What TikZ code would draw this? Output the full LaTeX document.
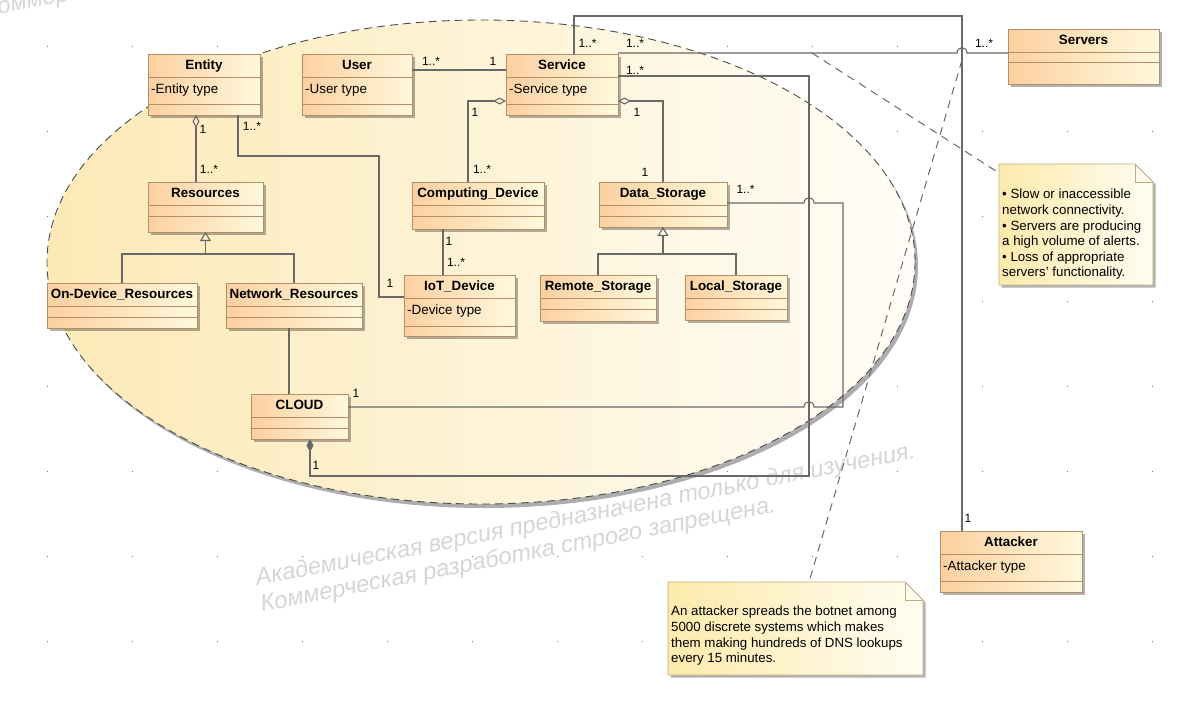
\documentclass[tikz,border=0pt]{standalone}
\usepackage{fontspec}
\setmainfont{Liberation Sans}
\usetikzlibrary{arrows.meta,shadows}

\definecolor{classleft}{RGB}{252,208,160}
\definecolor{classright}{RGB}{255,249,220}
\definecolor{classedge}{RGB}{180,142,104}
\definecolor{noteleft}{RGB}{253,234,172}
\definecolor{noteright}{RGB}{255,253,242}
\definecolor{noteedge}{RGB}{190,172,124}
\definecolor{zoneleft}{RGB}{252,233,182}
\definecolor{zoneright}{RGB}{255,253,246}
\definecolor{linkgray}{RGB}{105,105,105}

% class box: name, title, attribute, top-left, width, attr height, ops height
\newcommand{\umlclass}[7]{%
  \node[classbox, minimum width=#5pt, minimum height={23pt+#6pt+#7pt}, anchor=north west] (#1) at #4 {};
  \draw[classsep] ([yshift=-23pt]#1.north west) -- ([yshift=-23pt]#1.north east);
  \draw[classsep] ([yshift={-23pt-#6pt}]#1.north west) -- ([yshift={-23pt-#6pt}]#1.north east);
  \node[classtitle] (#1-title) at ([yshift=-15.5pt]#1.north) {#2};
  \node[classattr] (#1-attr) at ([xshift=3pt,yshift=-39pt]#1.north west) {#3};
}
% note: name, top-left, width, height
\newcommand{\umlnote}[4]{%
  \node[notebox, minimum width=#3pt, minimum height=#4pt, anchor=north west] (#1) at #2 {};
  \path[notefill] (#1.north west) -- ([xshift=-18pt]#1.north east) -- ([yshift=-18pt]#1.north east)
    -- (#1.south east) -- (#1.south west) -- cycle;
  \draw[noteline] ([xshift=-18pt]#1.north east) |- ([yshift=-18pt]#1.north east);
}

\begin{document}
\begin{tikzpicture}[x=1pt,y=-1pt,>=Stealth]
  \tikzstyle{classbox}=[rectangle, draw=classedge, line width=0.9pt, left color=classleft, right color=classright, inner sep=0pt, outer sep=0pt,
    drop shadow={shadow xshift=2.5pt, shadow yshift=-2.5pt, opacity=0.3, fill=black}]
  \tikzstyle{classsep}=[draw=classedge, line width=0.9pt]
  \tikzstyle{classtitle}=[anchor=base, inner sep=0pt, font=\bfseries\fontsize{13.4}{16}\selectfont]
  \tikzstyle{classattr}=[anchor=base west, inner sep=0pt, font=\fontsize{13.4}{16}\selectfont]
  \tikzstyle{notebox}=[rectangle, inner sep=0pt, outer sep=0pt]
  \tikzstyle{notefill}=[draw=noteedge, line width=0.9pt, left color=noteleft, right color=noteright,
    drop shadow={shadow xshift=2.5pt, shadow yshift=-2.5pt, opacity=0.3, fill=black}]
  \tikzstyle{noteline}=[draw=noteedge, line width=0.9pt]
  \tikzstyle{notetext}=[anchor=north west, inner sep=0pt, align=left, font=\fontsize{13.3}{15.6}\selectfont]
  \tikzstyle{assoc}=[draw=linkgray, line width=1.1pt]
  \tikzstyle{gen}=[assoc, -{Triangle[open,length=9pt,width=11pt]}]
  \tikzstyle{notelink}=[draw=linkgray, line width=1pt, dash pattern=on 8pt off 6pt]
  \tikzstyle{mult}=[inner sep=0pt, font=\fontsize{12}{14}\selectfont]
  \tikzstyle{watermark}=[anchor=base west, inner sep=0pt, rotate=11, text=black!16, font=\itshape\fontsize{23.7}{26}\selectfont]

  \useasboundingbox (0,0) rectangle (1201,702);
  \fill[white] (0,0) rectangle (1201,702);

  % grid dots
  \foreach \i in {0,...,13}
    \foreach \j in {0,...,7}
      \fill[black!55] (47+85*\i,45.5+85*\j) rectangle +(1.2,1.2);

  % botnet zone
  \fill[black!32] (484,266) ellipse [x radius=434, y radius=242];
  \shade[left color=zoneleft, right color=zoneright] (481,262) ellipse [x radius=434, y radius=242];
  \draw[draw=black!70, line width=0.9pt, dash pattern=on 8pt off 5pt] (481,262) ellipse [x radius=434, y radius=242];

  % watermark
  \begin{scope}
    \clip (0,0) rectangle (1201,702);
    \node[watermark] (wm1) at (257,586) {Академическая версия предназначена только для изучения.};
    \node[watermark] (wm2) at (262,612) {Коммерческая разработка строго запрещена.};
    \node[watermark] (wm3) at (-15,17) {Коммерческая разработка строго запрещена.};
  \end{scope}

  % classes
  \umlclass{Entity}{Entity}{-Entity type}{(148,54)}{112}{27}{11}
  \umlclass{User}{User}{-User type}{(302,54)}{110}{27}{11}
  \umlclass{Service}{Service}{-Service type}{(506,54)}{112}{27}{11}
  \umlclass{Resources}{Resources}{}{(148,182)}{115}{11}{16}
  \umlclass{Computing}{Computing\_Device}{}{(412,182)}{132}{11}{13}
  \umlclass{DataStorage}{Data\_Storage}{}{(599,182)}{128}{11}{11}
  \umlclass{OnDevice}{On-Device\_Resources}{}{(47,283)}{150}{11}{11}
  \umlclass{Network}{Network\_Resources}{}{(226,283)}{136}{11}{11}
  \umlclass{CLOUD}{CLOUD}{}{(251,394)}{97}{11}{11}
  \umlclass{IoT}{IoT\_Device}{-Device type}{(404,275)}{111}{28}{10}
  \umlclass{Remote}{Remote\_Storage}{}{(540,275)}{116}{11}{12}
  \umlclass{Local}{Local\_Storage}{}{(685,275)}{102}{11}{11}
  \umlclass{Servers}{Servers}{}{(1008,29)}{151}{10}{22}
  \umlclass{Attacker}{Attacker}{-Attacker type}{(940,531)}{142}{27}{11}

  % notes
  \umlnote{NoteA}{(999,164)}{154}{121}
  \node[notetext] (NoteA-text) at (1002,189) {• Slow or inaccessible\\network connectivity.\\• Servers are producing\\a high volume of alerts.\\• Loss of appropriate\\servers' functionality.};
  \umlnote{NoteB}{(668,582)}{255}{93}
  \node[notetext] (NoteB-text) at (671,606) {An attacker spreads the botnet among\\5000 discrete systems which makes\\them making hundreds of DNS lookups\\every 15 minutes.};

  % associations
  \draw[assoc] (User.east |- 0,70) -- (Service.west |- 0,70);
  \draw[assoc, {Diamond[open,length=13pt,width=7pt]}-] (196,0 |- Entity.south) -- (196,0 |- Resources.north);
  \draw[assoc] (238,0 |- Entity.south) |- (379,156) |- (IoT.west |- 0,297);
  \draw[assoc] (289,0 |- Network.south) -- (289,0 |- CLOUD.north);
  \draw[assoc, {Diamond[open,length=13pt,width=7pt]}-] (Service.west |- 0,101) -| (468,0 |- Computing.north);
  \draw[assoc, {Diamond[open,length=13pt,width=7pt]}-] (Service.east |- 0,101) -| (DataStorage.north);
  \draw[assoc] (443,0 |- Computing.south) -- (443,0 |- IoT.north);
  \draw[assoc] (574,0 |- Service.north) -- (574,16) -- (962,16) -- (962,0 |- Attacker.north);
  \draw[assoc] (Service.east |- 0,53) -- (957,53) .. controls (957,46) and (967,46) .. (967,53) -- (Servers.west |- 0,53);
  \draw[assoc, -{Diamond[length=13pt,width=7pt]}] (Service.east |- 0,76) -| (809,476) -| (310,0 |- CLOUD.south);
  \draw[assoc] (DataStorage.east |- 0,203) -- (804,203) .. controls (804,196) and (814,196) .. (814,203) -| (843,407)
    -- (814,407) .. controls (814,400) and (804,400) .. (804,407) -- (CLOUD.east |- 0,407);

  % generalizations
  \draw[assoc] (OnDevice.north) |- (Network.north |- 0,254) -- (Network.north);
  \draw[gen] (Resources.south |- 0,254) -- (Resources.south);
  \draw[assoc] (Remote.north) |- (Local.north |- 0,254) -- (Local.north);
  \draw[gen] (DataStorage.south |- 0,254) -- (DataStorage.south);

  % note links
  \coordinate (srvlink) at (812,53);
  \coordinate (atklink) at (962,60);
  \draw[notelink] (srvlink) -- ([yshift=-9pt]NoteA.north west);
  \draw[notelink] (atklink) -- (809,0 |- NoteB.north);

  % multiplicities
  \node[mult] (mUserA) at (431,61.5) {1..*};
  \node[mult] (mUserB) at (493,61.5) {1};
  \node[mult] (mResA) at (203,129.5) {1};
  \node[mult] (mResB) at (209,169) {1..*};
  \node[mult] (mIotA) at (252,126.5) {1..*};
  \node[mult] (mIotB) at (390,283) {1};
  \node[mult] (mCompA) at (475,112) {1};
  \node[mult] (mCompB) at (482,169.5) {1..*};
  \node[mult] (mDataA) at (637,112) {1};
  \node[mult] (mDataB) at (645,172.5) {1};
  \node[mult] (mDevA) at (449,241) {1};
  \node[mult] (mDevB) at (456,262.5) {1..*};
  \node[mult] (mAtkA) at (587.5,43) {1..*};
  \node[mult] (mAtkB) at (968,518) {1};
  \node[mult] (mSrvA) at (635,43) {1..*};
  \node[mult] (mSrvB) at (984,43.5) {1..*};
  \node[mult] (mCloudA) at (635,70) {1..*};
  \node[mult] (mCloudB) at (316,465) {1};
  \node[mult] (mStoreA) at (745.5,189) {1..*};
  \node[mult] (mStoreB) at (356,393.5) {1};
\end{tikzpicture}
\end{document}
